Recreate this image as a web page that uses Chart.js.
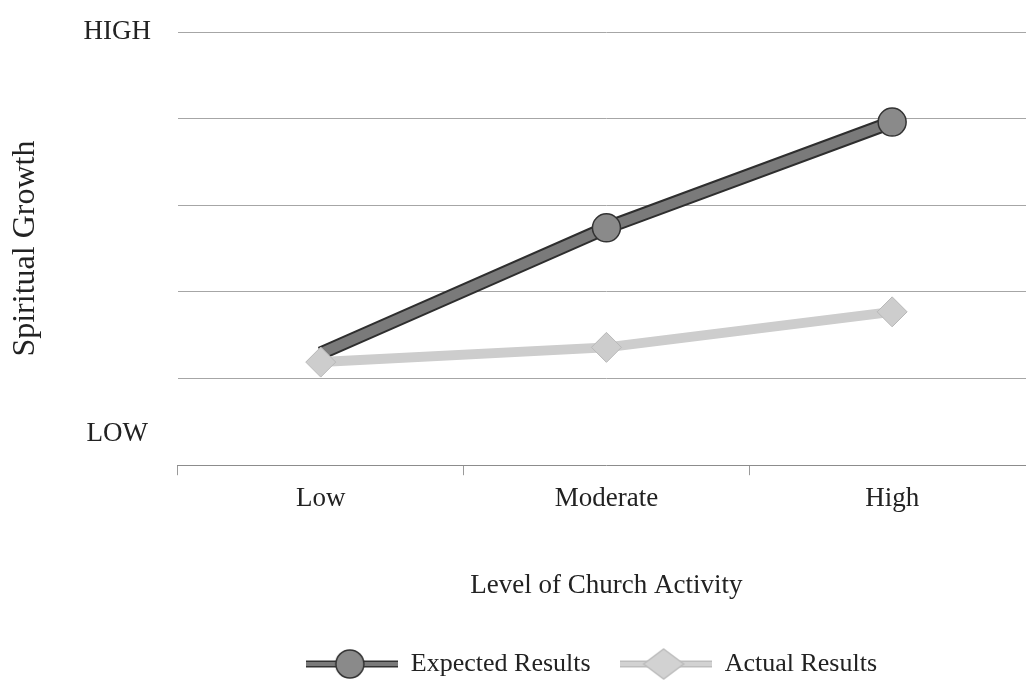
<!DOCTYPE html>
<html>
<head>
<meta charset="utf-8">
<script src="https://cdn.jsdelivr.net/npm/chart.js@4.4.1/dist/chart.umd.min.js"></script>
<style>
    html, body { margin: 0; padding: 0; background: #fff; overflow: hidden; }
    /* plot runs a little past the right edge, as in the scan */
    #wrap { width: 1051px; height: 681px; position: relative; }
</style>
</head>
<body>
<div id="wrap"><canvas id="chart"></canvas></div>
<script>
    const categories = ['Low', 'Moderate', 'High'];
    const expectedResults = [1.29, 2.74, 3.96];
    const actualResults = [1.19, 1.36, 1.77];
    const yTickValues = [0, 0.36, 1, 2, 3, 4, 5];
    const yTickLabels = {5: 'HIGH', 0.36: 'LOW'};

    const serif = '"Liberation Serif", "DejaVu Serif", serif';

    // legend swatch: a short line with the marker in its middle
    function makeSwatch(lineColor, edgeColor, fillColor, shape) {
        const c = document.createElement('canvas');
        c.width = 92;
        c.height = 34;
        const g = c.getContext('2d');
        g.strokeStyle = edgeColor;
        g.lineWidth = 7;
        g.beginPath();
        g.moveTo(0, 17);
        g.lineTo(92, 17);
        g.stroke();
        g.strokeStyle = lineColor;
        g.lineWidth = 4;
        g.stroke();
        g.fillStyle = fillColor;
        g.strokeStyle = edgeColor;
        g.lineWidth = 1.5;
        g.beginPath();
        if (shape === 'circle') {
            g.arc(44, 17, 14, 0, Math.PI * 2);
        } else {
            g.moveTo(44, 2);
            g.lineTo(64, 17);
            g.lineTo(44, 32);
            g.lineTo(24, 17);
            g.closePath();
        }
        g.fill();
        g.stroke();
        return c;
    }

    const expectedSwatch = makeSwatch('#7a7a7a', '#333', '#8a8a8a', 'circle');
    const actualSwatch = makeSwatch('#d2d2d2', '#bdbdbd', '#d2d2d2', 'diamond');

    // dark edge under the expected line
    const lineEdge = {
        id: 'lineEdge',
        beforeDatasetDraw(chart, args) {
            if (args.index !== 0) {
                return;
            }
            const pts = args.meta.data;
            const ctx = chart.ctx;
            ctx.save();
            ctx.strokeStyle = '#2e2e2e';
            ctx.lineWidth = 14;
            ctx.beginPath();
            pts.forEach((p, i) => {
                if (i === 0) {
                    ctx.moveTo(p.x, p.y);
                } else {
                    ctx.lineTo(p.x, p.y);
                }
            });
            ctx.stroke();
            ctx.restore();
        }
    };

    // legend sits a bit left of the plot centre in the scan
    const legendNudge = {
        id: 'legendNudge',
        afterLayout(chart) {
            if (chart.legend) {
                chart.legend.left -= 15;
                chart.legend.right -= 15;
            }
        }
    };

    new Chart(document.getElementById('chart'), {
        type: 'line',
        data: {
            labels: categories,
            datasets: [{
                label: 'Expected Results',
                data: expectedResults,
                borderColor: '#7a7a7a',
                borderWidth: 10,
                pointStyle: 'circle',
                pointRadius: [0, 14, 14],
                pointBackgroundColor: '#8a8a8a',
                pointBorderColor: '#333',
                pointBorderWidth: 1.5,
                order: 1
            }, {
                label: 'Actual Results',
                data: actualResults,
                borderColor: '#cdcdcd',
                borderWidth: 10,
                pointStyle: 'rectRot',
                pointRadius: 15,
                pointBackgroundColor: '#cdcdcd',
                pointBorderColor: '#b8b8b8',
                pointBorderWidth: 1,
                order: 0
            }]
        },
        plugins: [lineEdge, legendNudge],
        options: {
            responsive: true,
            maintainAspectRatio: false,
            animation: false,
            layout: {
                padding: {top: 32, right: 0, bottom: -6, left: 0}
            },
            plugins: {
                tooltip: {enabled: false},
                legend: {
                    position: 'bottom',
                    fullSize: false,
                    labels: {
                        usePointStyle: true,
                        pointStyleWidth: 92,
                        color: '#222',
                        font: {family: serif, size: 26},
                        padding: 29,
                        generateLabels: () => [
                            {text: 'Expected Results', pointStyle: expectedSwatch, fontColor: '#222', datasetIndex: 0, lineWidth: 0},
                            {text: 'Actual Results', pointStyle: actualSwatch, fontColor: '#222', datasetIndex: 1, lineWidth: 0}
                        ]
                    }
                }
            },
            scales: {
                x: {
                    offset: true,
                    afterFit: (scale) => {
                        scale.paddingLeft = 0;
                        scale.paddingRight = 0;
                    },
                    border: {display: true, color: '#8c8c8c', width: 1},
                    grid: {
                        display: true,
                        offset: true,
                        drawOnChartArea: false,
                        drawTicks: true,
                        tickLength: 10,
                        color: '#9a9a9a'
                    },
                    ticks: {
                        color: '#222',
                        font: {family: serif, size: 27},
                        padding: 8
                    },
                    title: {
                        display: true,
                        text: 'Level of Church Activity',
                        color: '#222',
                        font: {family: serif, size: 27},
                        padding: {top: 46, bottom: 20}
                    }
                },
                y: {
                    min: 0,
                    max: 5,
                    afterBuildTicks: (scale) => {
                        scale.ticks = yTickValues.map((v) => ({value: v}));
                    },
                    afterFit: (scale) => {
                        scale.paddingTop = 0;
                        scale.paddingBottom = 0;
                    },
                    border: {display: false},
                    grid: {
                        drawTicks: false,
                        color: (ctx) => (ctx.tick && ctx.tick.value >= 1 && Number.isInteger(ctx.tick.value)) ? '#a6a6a6' : 'rgba(0,0,0,0)'
                    },
                    ticks: {
                        color: '#222',
                        font: {family: serif, size: 27},
                        padding: 27,
                        crossAlign: 'center',
                        callback: (v) => yTickLabels[v] || ''
                    },
                    title: {
                        display: true,
                        text: 'Spiritual Growth',
                        color: '#222',
                        font: {family: serif, size: 32},
                        padding: {top: 6, bottom: 12}
                    }
                }
            }
        }
    });
</script>
</body>
</html>
